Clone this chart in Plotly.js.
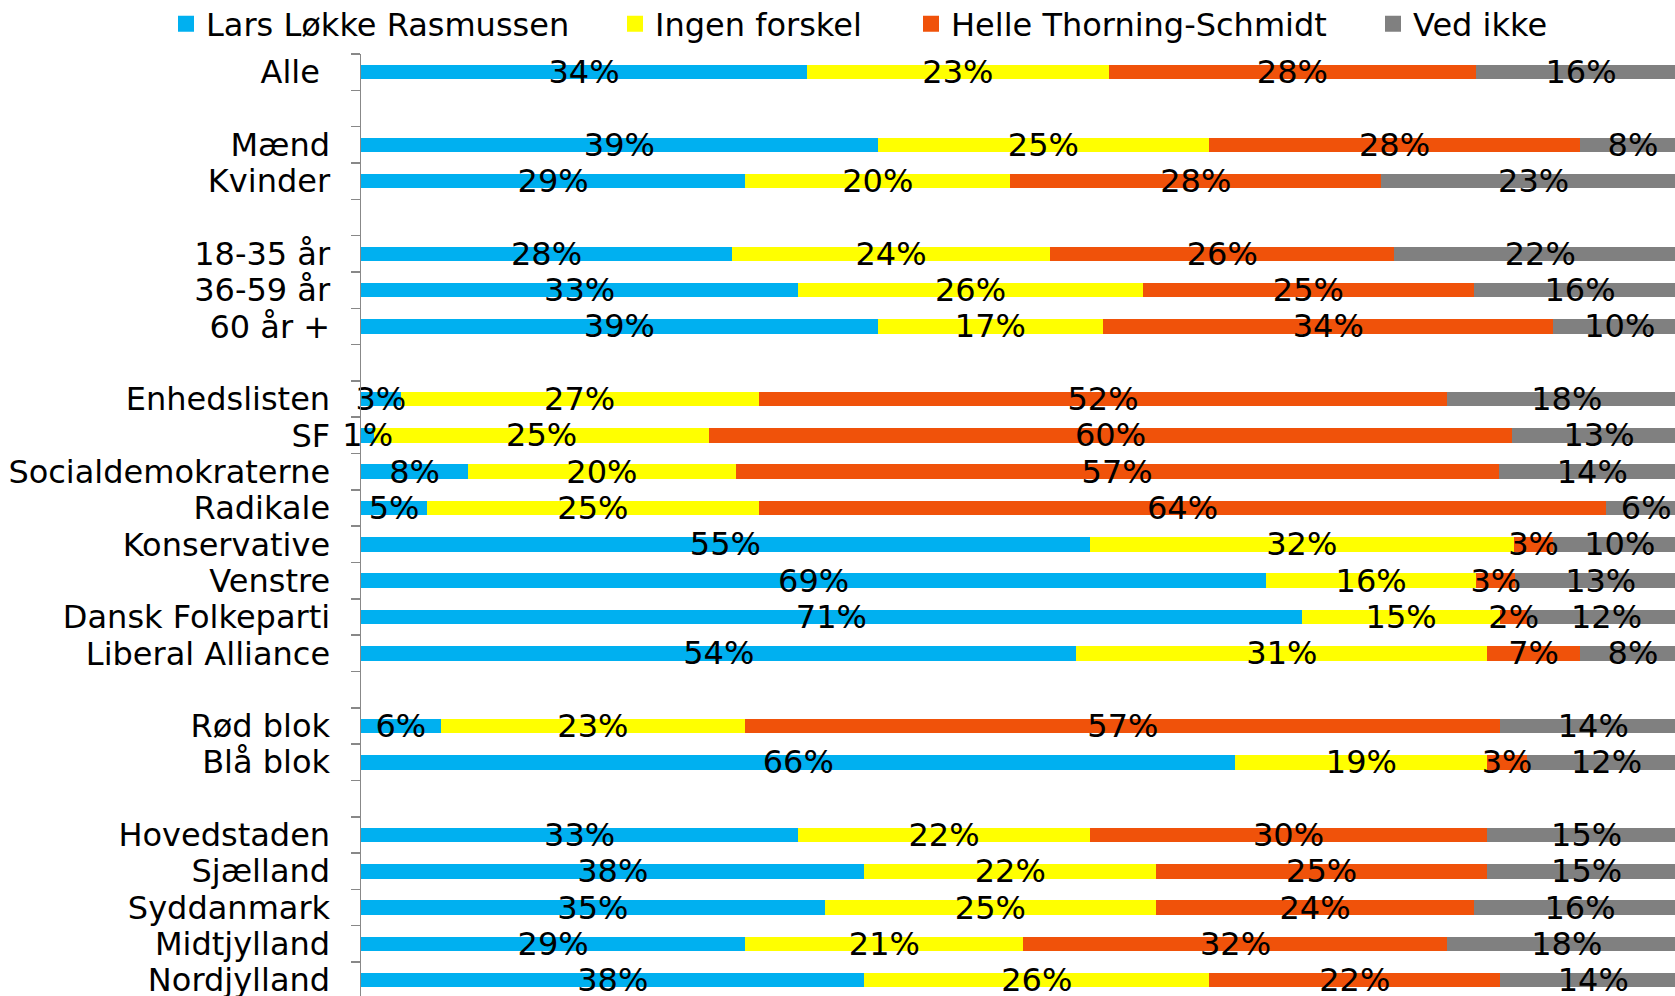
<!DOCTYPE html>
<html>
<head>
<meta charset="utf-8">
<script src="https://cdn.plot.ly/plotly-3.0.1.min.js"></script>
<style>
  html, body { margin: 0; padding: 0; background: #ffffff; overflow: hidden; width: 1675px; height: 996px; }
  #chart { width: 1686px; height: 996px; }
</style>
</head>
<body>
<div id="chart"></div>
<script>
// Row categories, top to bottom (blank entries are the gaps between groups)
const categories = [
  "Alle\u00a0", " ", "Mænd", "Kvinder", "  ",
  "18-35 år", "36-59 år", "60 år +", "   ",
  "Enhedslisten", "SF", "Socialdemokraterne", "Radikale", "Konservative",
  "Venstre", "Dansk Folkeparti", "Liberal Alliance", "    ",
  "Rød blok", "Blå blok", "     ",
  "Hovedstaden", "Sjælland", "Syddanmark", "Midtjylland", "Nordjylland"
];

// Rows that carry data
const rows = [
  "Alle\u00a0", "Mænd", "Kvinder",
  "18-35 år", "36-59 år", "60 år +",
  "Enhedslisten", "SF", "Socialdemokraterne", "Radikale", "Konservative",
  "Venstre", "Dansk Folkeparti", "Liberal Alliance",
  "Rød blok", "Blå blok",
  "Hovedstaden", "Sjælland", "Syddanmark", "Midtjylland", "Nordjylland"
];

const seriesNames = ["Lars Løkke Rasmussen", "Ingen forskel", "Helle Thorning-Schmidt", "Ved ikke"];

const larsLokke    = [34, 39, 29, 28, 33, 39, 3, 1, 8, 5, 55, 69, 71, 54, 6, 66, 33, 38, 35, 29, 38];
const ingenForskel = [23, 25, 20, 24, 26, 17, 27, 25, 20, 25, 32, 16, 15, 31, 23, 19, 22, 22, 25, 21, 26];
const helleThorning= [28, 28, 28, 26, 25, 34, 52, 60, 57, 64, 3, 3, 2, 7, 57, 3, 30, 25, 24, 32, 22];
const vedIkke      = [16, 8, 23, 22, 16, 10, 18, 13, 14, 6, 10, 13, 12, 8, 14, 12, 15, 15, 16, 18, 14];

const colors = ["#00B0F0", "#FFFF00", "#F0520A", "#808080"];

const seriesValues = [larsLokke, ingenForskel, helleThorning, vedIkke];
const legendIds = ["legend", "legend2", "legend3", "legend4"];

const FONT = "DejaVu Sans, Verdana, sans-serif";

// The original chart is slightly cropped at its right edge: draw a figure a little wider
// than the window and let the window crop it.
const FIG_W = 1686;
const FIG_H = 996;

// coloured bars (bottom layer)
const barTraces = seriesValues.map((vals, i) => ({
  type: "bar",
  orientation: "h",
  name: seriesNames[i],
  y: rows,
  x: vals,
  xaxis: "x",
  yaxis: "y",
  cliponaxis: false,
  marker: { color: colors[i], line: { width: 0 } },
  showlegend: false,
  hoverinfo: "skip"
}));

// transparent copies carrying the percentage labels, drawn on an overlaying axis so text sits above every bar
const textTraces = seriesValues.map((vals, i) => ({
  type: "bar",
  orientation: "h",
  name: seriesNames[i],
  y: rows,
  x: vals,
  xaxis: "x2",
  yaxis: "y",
  text: vals.map(v => v + "%"),
  texttemplate: "%{text}",
  textposition: "inside",
  insidetextanchor: "middle",
  textangle: 0,
  constraintext: "none",
  cliponaxis: false,
  textfont: { family: FONT, size: 32, color: "#000000" },
  marker: { color: "rgba(0,0,0,0)", line: { width: 0 } },
  showlegend: false,
  hoverinfo: "skip"
}));

// legend entries
const legendTraces = seriesNames.map((nm, i) => ({
  type: "scatter",
  mode: "markers",
  name: nm,
  x: [null],
  y: [null],
  xaxis: "x",
  yaxis: "y",
  marker: { symbol: "square", size: 17, color: colors[i], line: { width: 0 } },
  legend: legendIds[i],
  showlegend: true,
  hoverinfo: "skip"
}));

// legend positions (left edge of each legend entry, px)
const legendX = [166, 615, 911, 1373];
const legendBase = {
  orientation: "h",
  xref: "container", yref: "container",
  yanchor: "middle", xanchor: "left",
  y: 1 - 24 / FIG_H,
  font: { family: FONT, size: 32, color: "#000000" },
  bgcolor: "rgba(0,0,0,0)",
  borderwidth: 0,
  itemclick: false, itemdoubleclick: false
};

const xRange = [0, 100.001];

const layout = {
  width: FIG_W,
  height: FIG_H,
  margin: { l: 361, r: 0, t: 54, b: 0, pad: 0 },
  paper_bgcolor: "#ffffff",
  plot_bgcolor: "rgba(0,0,0,0)",
  barmode: "stack",
  barnorm: "percent",
  bargap: 0.6,
  showlegend: true,
  font: { family: FONT, size: 32, color: "#000000" },
  xaxis: { range: xRange, visible: false, fixedrange: true },
  xaxis2: { range: xRange, visible: false, fixedrange: true, overlaying: "x", anchor: "y" },
  yaxis: {
    type: "category",
    categoryorder: "array",
    categoryarray: categories,
    tickmode: "array",
    tickvals: categories,
    ticktext: categories,
    range: [25.435, -0.5],
    autorange: false,
    showline: true,
    linecolor: "#888888",
    linewidth: 1.5,
    ticks: "outside",
    tickson: "boundaries",
    ticklen: 9,
    tickwidth: 1.5,
    tickcolor: "#888888",
    showgrid: false,
    zeroline: false,
    ticklabelstandoff: 23,
    tickfont: { family: FONT, size: 32, color: "#000000" },
    fixedrange: true
  }
};

legendIds.forEach((id, i) => {
  layout[id] = Object.assign({}, legendBase, { x: legendX[i] / FIG_W });
});

Plotly.newPlot("chart", barTraces.concat(textTraces, legendTraces), layout,
  { displayModeBar: false, staticPlot: true });
</script>
</body>
</html>
